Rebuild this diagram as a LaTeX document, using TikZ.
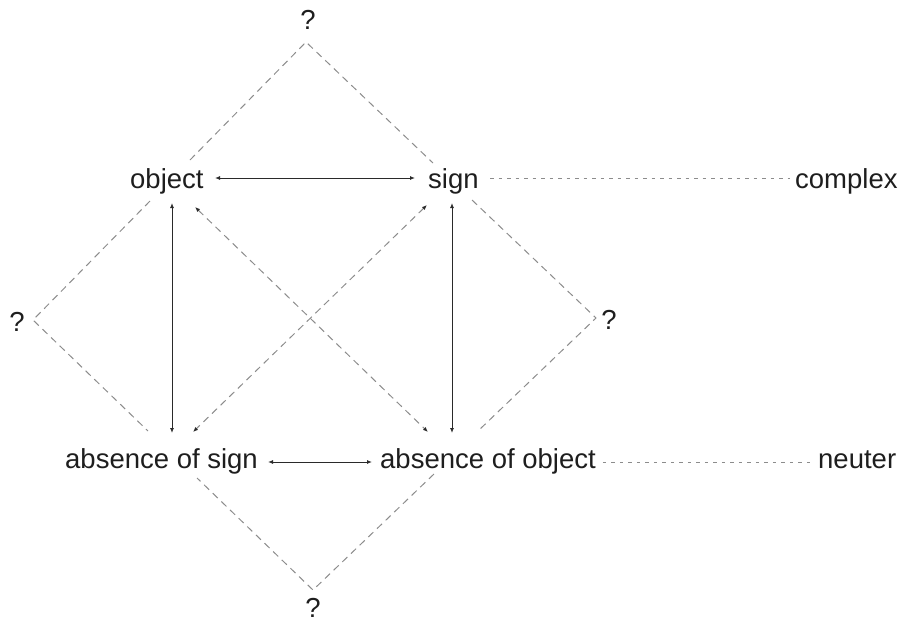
\documentclass[tikz,border=0pt]{standalone}
\usepackage{fontspec}
\setmainfont{Liberation Sans}
\usetikzlibrary{calc,arrows.meta}
\definecolor{txt}{HTML}{1E1E1E}
\definecolor{dash}{HTML}{8C8C8C}
\definecolor{arrc}{HTML}{2A2A2A}
\tikzset{
  lbl/.style={anchor=base west, inner sep=0pt, text=txt, font=\fontsize{27.5}{30}\selectfont},
  qm/.style={inner sep=0pt, text=txt, font=\fontsize{27.5}{30}\selectfont},
  diam/.style={draw=dash, line width=1pt, dash pattern=on 7pt off 5pt},
  dotl/.style={draw=dash, line width=1pt, dash pattern=on 3.5pt off 5pt},
  arr/.style={draw=arrc, line width=0.9pt, {Latex[length=5pt,width=4pt]}-{Latex[length=5pt,width=4pt]}},
  darr/.style={draw=dash, line width=1pt, dash pattern=on 7pt off 5pt, {Latex[length=5pt,width=4pt,fill=arrc,color=arrc]}-{Latex[length=5pt,width=4pt,fill=arrc,color=arrc]}}
}
\begin{document}
\begin{tikzpicture}[x=1pt,y=-1pt]
\useasboundingbox (0,0) rectangle (906,632);
% labels
\node[lbl] (obj) at (130,188) {object};
\node[lbl] (sign) at (428,188) {sign};
\node[lbl] (complex) at (795,188) {complex};
\node[lbl] (abssign) at (65,468) {absence of sign};
\node[lbl] (absobj) at (380,468) {absence of object};
\node[lbl] (neuter) at (818,468) {neuter};
% question marks
\node[qm] (qt) at (308,20) {?};
\node[qm] (ql) at (17,322) {?};
\node[qm] (qr) at (609,320) {?};
\node[qm] (qb) at (313,608) {?};
% diamond vertices
\coordinate (T) at (306,42);
\coordinate (L) at (33,320);
\coordinate (R) at (596,318);
\coordinate (B) at (313,590);
% gap points of the diamond edges
\coordinate (lt1) at (150,201);
\coordinate (lt2) at (190,160);
\coordinate (tr1) at (433,163);
\coordinate (tr2) at (472,200);
\coordinate (rb1) at (478,431);
\coordinate (rb2) at (434,474);
\coordinate (bl1) at (197,478);
\coordinate (bl2) at (148,431);
\draw[diam] (lt1) -- (L) -- (bl2);
\draw[diam] (lt2) -- (T) -- (tr1);
\draw[diam] (tr2) -- (R) -- (rb1);
\draw[diam] (rb2) -- (B) -- (bl1);
% arrows
\draw[arr] ($(obj.base west)+(85,-10)$) -- ($(sign.base west)+(-13,-10)$);
\draw[arr] ($(abssign.base east)+(10,-6)$) -- ($(absobj.base west)+(-8,-6)$);
\draw[arr] ($(obj.base west)+(42,15)$) -- ($(obj.base west)+(42,245)$);
\draw[arr] ($(sign.base west)+(24,15)$) -- ($(sign.base west)+(24,245)$);
\draw[darr] ($(obj.base west)+(65,19)$) -- ($(absobj.base west)+(48,-36)$);
\draw[darr] ($(sign.base west)+(-1,17)$) -- ($(abssign.base west)+(128,-36)$);
% dotted lines to complex / neuter
\draw[dotl] ($(sign.base west)+(62,-10)$) -- ($(complex.base west)+(-5,-10)$);
\draw[dotl] ($(absobj.base east)+(7,-6)$) -- ($(neuter.base west)+(-3,-6)$);
\end{tikzpicture}
\end{document}
